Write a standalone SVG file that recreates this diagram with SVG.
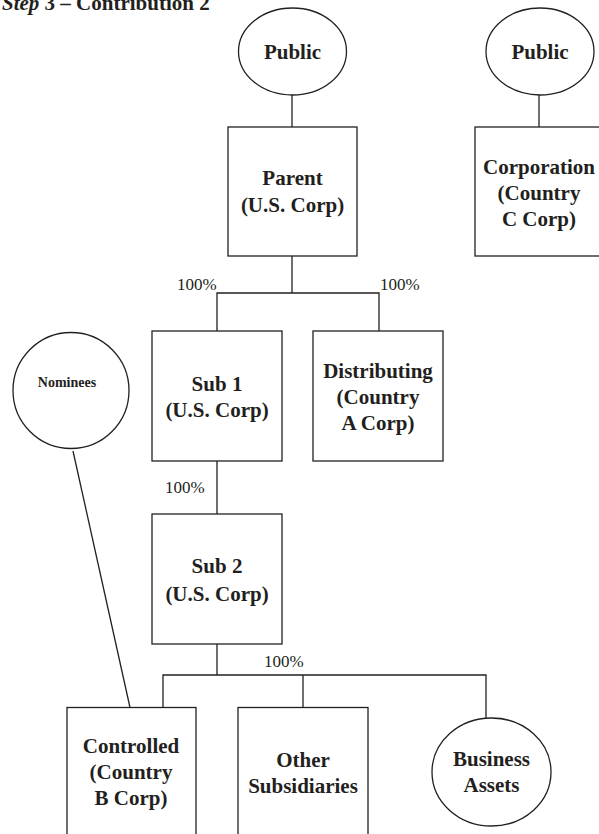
<svg xmlns="http://www.w3.org/2000/svg" width="599" height="834" viewBox="0 0 599 834">
  <style>
    .shape { fill: #ffffff; stroke: #231f20; stroke-width: 1.3; }
    .wire { fill: none; stroke: #231f20; stroke-width: 1.3; }
    .lbl { font-family: "Liberation Serif", "Times New Roman", serif; font-weight: bold; font-size: 21px; fill: #231f20; text-anchor: middle; }
    .small { font-size: 14px; }
    .pct { font-family: "Liberation Serif", "Times New Roman", serif; font-size: 17px; fill: #231f20; }
    .title { font-family: "Liberation Serif", "Times New Roman", serif; font-weight: bold; font-size: 21px; fill: #231f20; }
  </style>

  <rect width="599" height="834" fill="#ffffff"/>

  <text class="title" x="2" y="10"><tspan font-style="italic">Step</tspan> 3 – Contribution 2</text>

  <!-- connectors -->
  <g id="connectors">
    <line class="wire" x1="292" y1="95" x2="292" y2="127"/>
    <line class="wire" x1="539" y1="95" x2="539" y2="127"/>
    <polyline class="wire" points="292,256 292,293"/>
    <polyline class="wire" points="217,331 217,293 379,293 379,331"/>
    <line class="wire" x1="217" y1="461" x2="217" y2="514"/>
    <line class="wire" x1="217" y1="644" x2="217" y2="675"/>
    <polyline class="wire" points="163,707.5 163,675 486,675 486,718"/>
    <line class="wire" x1="303" y1="675" x2="303" y2="707.5"/>
    <line class="wire" x1="73" y1="451" x2="130" y2="707.5"/>
    <text class="pct" x="177" y="290">100%</text>
    <text class="pct" x="380" y="290">100%</text>
    <text class="pct" x="165" y="493">100%</text>
    <text class="pct" x="264" y="667">100%</text>
  </g>

  <g id="public-left">
    <ellipse class="shape" cx="292.5" cy="51.5" rx="54" ry="43.5"/>
    <text class="lbl" x="292.5" y="59">Public</text>
  </g>

  <g id="public-right">
    <ellipse class="shape" cx="540" cy="51.5" rx="54" ry="43.5"/>
    <text class="lbl" x="540" y="59">Public</text>
  </g>

  <g id="parent">
    <rect class="shape" x="228" y="127" width="129" height="129"/>
    <text class="lbl" x="292.5" y="185">Parent</text>
    <text class="lbl" x="292.5" y="212">(U.S. Corp)</text>
  </g>

  <g id="corporation">
    <rect class="shape" x="475" y="127" width="129" height="129"/>
    <text class="lbl" x="539" y="174">Corporation</text>
    <text class="lbl" x="539" y="200">(Country</text>
    <text class="lbl" x="539" y="226">C Corp)</text>
  </g>

  <g id="nominees">
    <circle class="shape" cx="71" cy="390.5" r="58"/>
    <text class="lbl small" x="67" y="387">Nominees</text>
  </g>

  <g id="sub1">
    <rect class="shape" x="152" y="331" width="130" height="130"/>
    <text class="lbl" x="217" y="391">Sub 1</text>
    <text class="lbl" x="217" y="417">(U.S. Corp)</text>
  </g>

  <g id="distributing">
    <rect class="shape" x="313" y="331" width="130" height="130"/>
    <text class="lbl" x="378" y="378">Distributing</text>
    <text class="lbl" x="378" y="404">(Country</text>
    <text class="lbl" x="378" y="430">A Corp)</text>
  </g>

  <g id="sub2">
    <rect class="shape" x="152" y="514" width="130" height="130"/>
    <text class="lbl" x="217" y="573">Sub 2</text>
    <text class="lbl" x="217" y="601">(U.S. Corp)</text>
  </g>

  <g id="controlled">
    <rect class="shape" x="67" y="707.5" width="129" height="140"/>
    <text class="lbl" x="131" y="753">Controlled</text>
    <text class="lbl" x="131" y="779">(Country</text>
    <text class="lbl" x="131" y="805">B Corp)</text>
  </g>

  <g id="other-subsidiaries">
    <rect class="shape" x="238" y="707.5" width="130" height="140"/>
    <text class="lbl" x="303" y="767">Other</text>
    <text class="lbl" x="303" y="793">Subsidiaries</text>
  </g>

  <g id="business-assets">
    <ellipse class="shape" cx="491.5" cy="772" rx="59.5" ry="54"/>
    <text class="lbl" x="491.5" y="766">Business</text>
    <text class="lbl" x="491.5" y="792">Assets</text>
  </g>
</svg>
